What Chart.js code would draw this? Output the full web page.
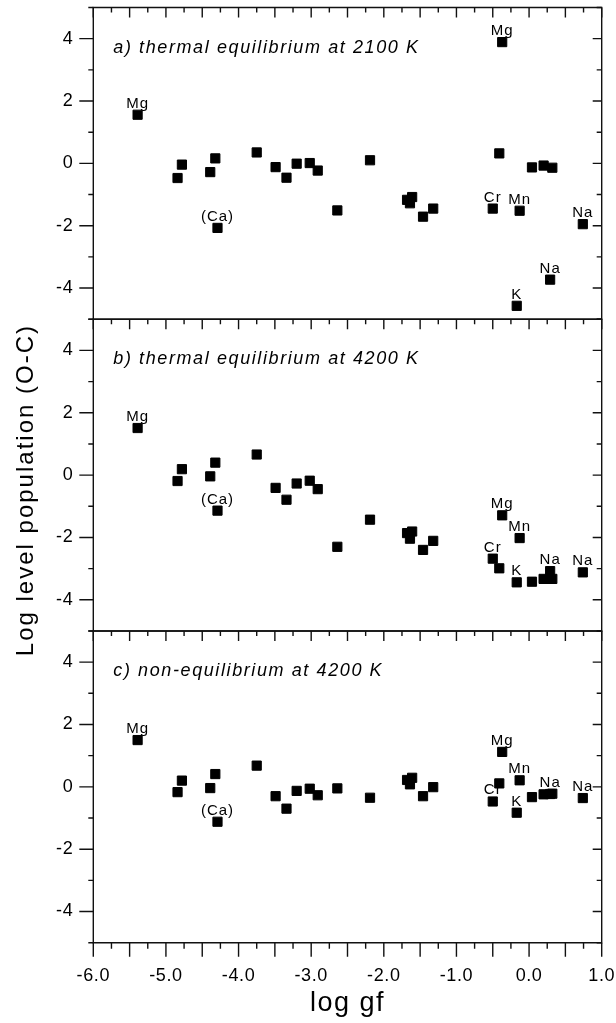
<!DOCTYPE html>
<html>
<head>
<meta charset="utf-8">
<script src="https://cdn.jsdelivr.net/npm/chart.js@4.4.1/dist/chart.umd.min.js"></script>
<style>
  html, body { margin: 0; padding: 0; background: #fff; }
  canvas { display: block; }
</style>
</head>
<body>
<canvas id="chart" width="616" height="1023"></canvas>
<script>
// log gf of every line, same for the three panels
const logGf = [-5.39, -4.84, -4.78, -4.39, -4.32, -4.29, -3.75, -3.49, -3.34, -3.20,
               -3.02, -2.91, -2.64, -2.19, -1.68, -1.64, -1.61, -1.46, -1.32, -0.50,
               -0.41, -0.37, -0.17, -0.13, 0.04, 0.20, 0.29, 0.32, 0.74];

// Log level population (O-C) per panel
const popThermal2100 = [1.56, -0.47, -0.04, -0.28, 0.16, -2.07, 0.35, -0.12, -0.46, -0.01,
                        0.01, -0.23, -1.51, 0.10, -1.17, -1.28, -1.08, -1.71, -1.45, -1.45,
                        0.32, 3.89, -4.57, -1.52, -0.13, -0.07, -3.73, -0.14, -1.95];
const popThermal4200 = [1.51, -0.19, 0.19, -0.04, 0.40, -1.14, 0.66, -0.41, -0.79, -0.27,
                        -0.18, -0.45, -2.30, -1.43, -1.86, -2.04, -1.81, -2.40, -2.11, -2.68,
                        -2.99, -1.29, -3.44, -2.02, -3.42, -3.33, -3.08, -3.33, -3.12];
const popNonEq4200 = [1.50, -0.17, 0.20, -0.04, 0.41, -1.12, 0.68, -0.30, -0.70, -0.13,
                      -0.06, -0.27, -0.05, -0.35, 0.22, 0.08, 0.29, -0.30, -0.01, -0.47,
                      0.11, 1.12, -0.83, 0.21, -0.33, -0.24, -0.23, -0.22, -0.36];

// element names written next to some of the points
const ionLabels = ['Mg', '', '', '', '', '(Ca)', '', '', '', '',
                   '', '', '', '', '', '', '', '', '', 'Cr',
                   '', 'Mg', 'K', 'Mn', '', '', 'Na', '', 'Na'];

const panelTitles = ['a) thermal equilibrium at 2100 K',
                     'b) thermal equilibrium at 4200 K',
                     'c) non-equilibrium at 4200 K'];
const panelIds = ['yA', 'yB', 'yC'];
const panelData = [popThermal2100, popThermal4200, popNonEq4200];

const yTickLabels = [-4, -2, 0, 2, 4];
const xTickLabels = [-6, -5, -4, -3, -2, -1, 0, 1];
const xMin = -6, xMax = 1;
const yMin = -5, yMax = 5;

const FONT = 'Arial, "Liberation Sans", sans-serif';
const INK = '#111';

// frames, tick marks, tick labels, titles and element names
const decorations = {
    id: 'decorations',
    beforeDatasetsDraw(chart) {
        const ctx = chart.ctx;
        const { left, right } = chart.chartArea;
        const x = chart.scales.x;
        ctx.save();
        ctx.strokeStyle = INK;
        ctx.lineWidth = 1.4;
        panelIds.forEach((id, i) => {
            const s = chart.scales[id];
            const last = i === panelIds.length - 1;
            ctx.beginPath();
            ctx.rect(left, s.top, right - left, s.bottom - s.top);
            ctx.stroke();

            ctx.beginPath();
            for (let v = yMin; v <= yMax; v++) {
                const py = s.getPixelForValue(v);
                const major = Math.abs(v) % 2 === 0;
                ctx.moveTo(left - (major ? 14 : 5), py);
                ctx.lineTo(left, py);
                ctx.moveTo(right - (major ? 9 : 5), py);
                ctx.lineTo(right, py);
            }
            for (let k = 0; k <= (xMax - xMin) * 4; k++) {
                const px = x.getPixelForValue(xMin + k * 0.25);
                const major = k % 2 === 0;
                ctx.moveTo(px, s.top);
                ctx.lineTo(px, s.top + (major ? 10 : 5));
                if (last) {
                    ctx.moveTo(px, s.bottom);
                    ctx.lineTo(px, s.bottom + (major ? 14 : 6));
                }
            }
            ctx.stroke();

            // y tick labels
            ctx.fillStyle = '#000';
            ctx.letterSpacing = '0.6px';
            ctx.font = '18px ' + FONT;
            ctx.textAlign = 'right';
            ctx.textBaseline = 'middle';
            yTickLabels.forEach(v => {
                ctx.fillText(String(v), left - 20, s.getPixelForValue(v));
            });

            // x tick labels under the last panel
            if (last) {
                ctx.textAlign = 'center';
                xTickLabels.forEach(v => {
                    ctx.fillText(v.toFixed(1), x.getPixelForValue(v), s.bottom + 33);
                });
            }

            // panel title
            ctx.letterSpacing = '1.6px';
            ctx.font = 'italic 18px ' + FONT;
            ctx.textAlign = 'left';
            ctx.textBaseline = 'middle';
            ctx.fillText(panelTitles[i], left + 20, s.top + 40);

            // element names above their points
            ctx.letterSpacing = '1px';
            ctx.font = '15px ' + FONT;
            ctx.textAlign = 'center';
            ctx.textBaseline = 'alphabetic';
            ionLabels.forEach((name, j) => {
                if (!name) return;
                const px = x.getPixelForValue(logGf[j]);
                const py = s.getPixelForValue(panelData[i][j]);
                ctx.fillText(name, px, py - 7);
            });
        });

        // axis titles
        const mid = (chart.chartArea.top + chart.chartArea.bottom) / 2;
        ctx.letterSpacing = '2px';
        ctx.font = '24px ' + FONT;
        ctx.textAlign = 'center';
        ctx.textBaseline = 'alphabetic';
        ctx.save();
        ctx.translate(33, mid + 15);
        ctx.rotate(-Math.PI / 2);
        ctx.fillText('Log level population (O-C)', 0, 0);
        ctx.restore();

        ctx.letterSpacing = '1.5px';
        ctx.font = '27px ' + FONT;
        ctx.fillText('log gf', (left + right) / 2, chart.chartArea.bottom + 68);
        ctx.restore();
    }
};

function yScale(weight) {
    return {
        type: 'linear',
        position: 'left',
        stack: 'panels',
        stackWeight: 1,
        weight: weight,
        min: yMin,
        max: yMax,
        grid: { display: false, drawTicks: false },
        border: { display: false },
        ticks: { display: false, stepSize: 1 },
        afterFit: s => { s.width = 93.3; }
    };
}

new Chart(document.getElementById('chart'), {
    type: 'scatter',
    data: {
        datasets: panelIds.map((id, i) => ({
            data: logGf.map((g, j) => ({ x: g, y: panelData[i][j] })),
            yAxisID: id,
            pointStyle: 'rect',
            pointRadius: 6.5,
            pointBorderWidth: 1,
            backgroundColor: '#000',
            borderColor: '#000'
        }))
    },
    options: {
        responsive: false,
        devicePixelRatio: 1,
        animation: false,
        events: [],
        layout: { padding: { top: 6, right: 14.3, left: 0, bottom: 0 } },
        plugins: { legend: { display: false }, tooltip: { enabled: false } },
        scales: {
            x: {
                type: 'linear',
                position: 'bottom',
                min: xMin,
                max: xMax,
                grid: { display: false, drawTicks: false },
                border: { display: false },
                ticks: { display: false, stepSize: 1 },
                afterFit: s => { s.height = 80.3; }
            },
            yA: yScale(3),
            yB: yScale(2),
            yC: yScale(1)
        }
    },
    plugins: [decorations]
});
</script>
</body>
</html>
